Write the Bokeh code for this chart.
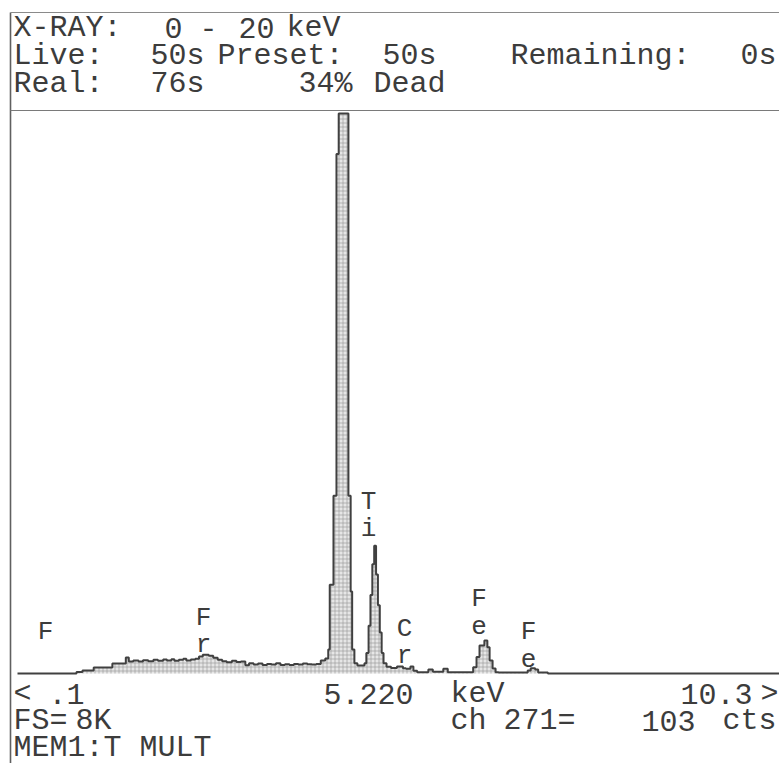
import numpy as np
from bokeh.plotting import figure
from bokeh.models import Range1d, Label, ColumnDataSource
from bokeh.embed import file_html
from bokeh.resources import INLINE
from bokeh.core.properties import value

# ---------------- data ----------------
# step spectrum: energy (keV) where each step starts, counts in that step
energy_kev = [0.10, 0.89, 0.97, 1.12, 1.37, 1.55, 1.59, 1.65, 1.72, 1.78,
              1.85, 1.92, 1.98, 2.05, 2.10, 2.16, 2.20, 2.26, 2.32, 2.36,
              2.42, 2.48, 2.53, 2.58, 2.66, 2.72, 2.78, 2.84, 2.90, 2.97,
              3.03, 3.09, 3.15, 3.20, 3.26, 3.32, 3.38, 3.44, 3.50, 3.56,
              3.62, 3.68, 3.74, 3.80, 3.86, 3.92, 3.98, 4.04, 4.10, 4.16,
              4.22, 4.26, 4.28, 4.33, 4.37, 4.40, 4.50, 4.53, 4.56, 4.58,
              4.61, 4.65, 4.745, 4.77, 4.80, 4.825, 4.85, 4.875, 4.90, 4.925,
              4.95, 4.975, 5.00, 5.04, 5.10, 5.18, 5.26, 5.30, 5.36, 5.40,
              5.45, 5.60, 5.66, 5.80, 5.86, 6.20, 6.245, 6.285, 6.35, 6.39,
              6.42, 6.46, 6.50, 6.54, 6.93, 6.97, 7.03, 7.07, 7.20]
counts = [0, 22, 44, 88, 146, 234, 175, 190, 175, 195,
          180, 200, 185, 205, 190, 210, 185, 200, 215, 190,
          205, 215, 250, 275, 260, 230, 200, 180, 165, 185,
          170, 175, 120, 150, 130, 145, 125, 140, 130, 150,
          125, 135, 125, 140, 130, 145, 135, 130, 140, 190,
          220, 350, 1300, 2600, 7600, 14000, 9000, 2600, 1200, 350,
          150, 117, 150, 300, 700, 1150, 1600, 1870, 1450, 1000,
          600, 300, 150, 100, 80, 103, 75, 70, 102, 40,
          20, 58, 25, 70, 20, 92, 240, 410, 483, 385,
          190, 73, 20, 15, 45, 75, 60, 15, 0]
E_MIN, E_MAX = 0.1, 10.3
FULL_SCALE = 8192

# element markers (energy, two stacked letters, height of lower letter)
label_kev = [0.475, 2.59, 4.80, 5.28, 6.28, 6.94]
label_top = ["F", "F", "T", "C", "F", "F"]
label_bottom = ["", "r", "i", "r", "e", "e"]
label_counts = [219, 424, 2120, 249, 702, 219]

header_rows = [
    [("X-RAY:", 13), ("0", 164), ("-", 199), ("20", 238), ("keV", 286)],
    [("Live:", 13), ("50s", 150), ("Preset:", 217), ("50s", 382),
     ("Remaining:", 510), ("0s", 740)],
    [("Real:", 13), ("76s", 150), ("34%", 298), ("Dead", 373)],
]
footer_rows = [
    [("<", 13), (".1", 48), ("5.220", 323), ("keV", 450), ("10.3", 680), (">", 760)],
    [("FS=", 13), ("8K", 75), ("ch", 450), ("271=", 503), ("103", 641), ("cts", 722)],
    [("MEM1:T MULT", 13)],
]

# ---------------- layout ----------------
W, H = 779, 763
PX_PER_KEV = 74.7
PX_PER_COUNT = 560.0 / FULL_SCALE
X0_PAGE = 17      # page x of E_MIN
Y0_PAGE = 673     # page y of zero counts

x_lo = E_MIN - X0_PAGE / PX_PER_KEV
x_hi = x_lo + W / PX_PER_KEV
y_hi = Y0_PAGE / PX_PER_COUNT
y_lo = y_hi - H / PX_PER_COUNT


def ex(px):
    return x_lo + px / PX_PER_KEV


def ey(py):
    return y_hi - py / PX_PER_COUNT


INK = "#3c3c3c"
FONT = "Liberation Mono"

p = figure(width=W, height=H, output_backend="svg", toolbar_location=None,
           x_range=Range1d(x_lo, x_hi), y_range=Range1d(y_lo, y_hi),
           min_border=0, min_border_left=0, min_border_right=0,
           min_border_top=0, min_border_bottom=0)
p.axis.visible = False
p.grid.visible = False
p.outline_line_color = None
p.background_fill_color = "white"
p.border_fill_color = "white"

# spectrum
xs = np.array(energy_kev + [E_MAX])
ys = np.minimum(np.array(counts + [0]), FULL_SCALE)
p.varea_step(x=xs, y1=np.zeros_like(ys), y2=ys, step_mode="after",
             fill_color="#e6e6e6", hatch_pattern="+", hatch_color="#9c9c9c",
             hatch_scale=4, hatch_weight=0.7)
p.step(x=xs, y=ys, mode="after", line_color="#404040", line_width=2)

# frame lines (screen furniture of the printout)
p.segment(x0=[ex(10), ex(10), ex(10)], y0=[ey(12), ey(12), ey(110)],
          x1=[ex(10), ex(779), ex(779)], y1=[ey(763), ey(12), ey(110)],
          line_color=["#606060", "#8a8a8a", "#7a7a7a"], line_width=[1.6, 1.2, 1.2])

# element labels
src = ColumnDataSource(dict(
    x=label_kev,
    y_top=[c + 27 / PX_PER_COUNT for c in label_counts],
    y_bot=label_counts,
    t=label_top, b=label_bottom))
for col, ycol in (("t", "y_top"), ("b", "y_bot")):
    p.text(x="x", y=ycol, text=col, source=src,
           text_font=value(FONT), text_font_size="26px", text_align="center",
           text_baseline="middle", text_color=INK)

# header / footer text (y = centre of the character row)
for rows, centres in ((header_rows, [27, 55, 83]), (footer_rows, [693, 720, 747])):
    for row, cy in zip(rows, centres):
        for txt, px in row:
            p.add_layout(Label(x=ex(px), y=ey(cy), text=txt, text_font=FONT,
                               text_font_size="30px", text_color=INK,
                               text_align="left", text_baseline="middle"))

open("out.html", "w").write(file_html(p, INLINE))
